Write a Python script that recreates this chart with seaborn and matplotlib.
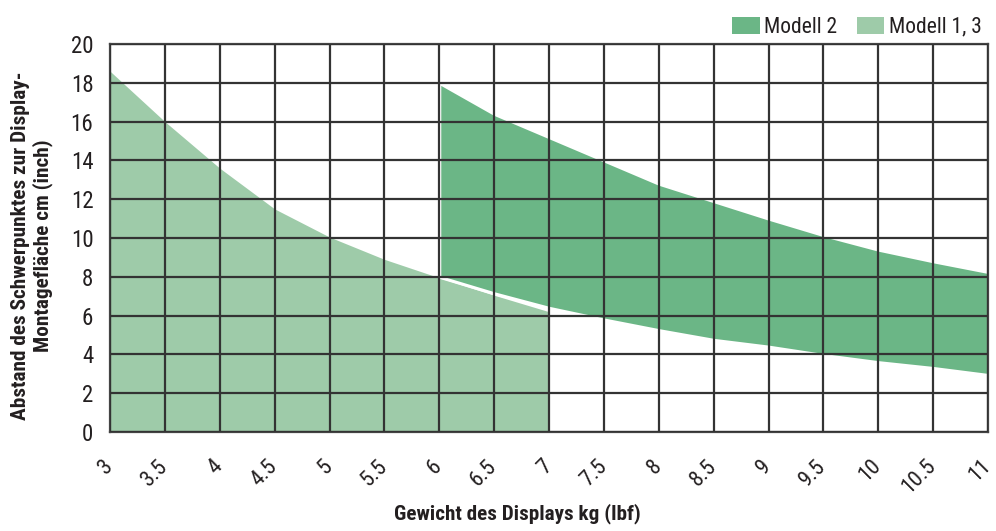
import matplotlib
matplotlib.use("Agg")
import matplotlib.pyplot as plt
import matplotlib.transforms as mtransforms
from matplotlib import font_manager
from matplotlib.patches import Patch
import seaborn as sns
import pandas as pd

# ---- data ----
x_light = [3.0, 3.5, 4.0, 4.5, 5.0, 5.5, 6.0, 6.5, 7.0]
y_light_top = [18.6, 16.0, 13.6, 11.5, 10.05, 8.9, 7.95, 7.05, 6.2]

x_dark = [6.0, 6.5, 7.0, 7.5, 8.0, 8.5, 9.0, 9.5, 10.0, 10.5, 11.0]
y_dark_top = [18.0, 16.4, 15.2, 14.0, 12.8, 11.9, 11.0, 10.15, 9.4, 8.8, 8.25]
y_dark_bottom = [8.0, 7.15, 6.4, 5.8, 5.25, 4.75, 4.4, 3.97, 3.6, 3.3, 2.94]

x_ticks = [3, 3.5, 4, 4.5, 5, 5.5, 6, 6.5, 7, 7.5, 8, 8.5, 9, 9.5, 10, 10.5, 11]
x_tick_labels = ["3", "3.5", "4", "4.5", "5", "5.5", "6", "6.5", "7", "7.5",
                 "8", "8.5", "9", "9.5", "10", "10.5", "11"]
y_ticks = [0, 2, 4, 6, 8, 10, 12, 14, 16, 18, 20]

series_names = ["Modell 2", "Modell 1, 3"]
dark_color = "#6bb686"
light_color = "#9ecba9"

# ---- style ----
sns.set_theme(style="white")
names = {f.name for f in font_manager.fontManager.ttflist}
stretch = "condensed"
family = "DejaVu Sans"
for cand in ["Roboto Condensed", "Liberation Sans Narrow", "Open Sans Condensed"]:
    if cand in names:
        family = cand
        stretch = "normal"
        break
plt.rcParams["font.family"] = [family, "DejaVu Sans"]
plt.rcParams["font.stretch"] = stretch
text_color = "#231f20"

fig = plt.figure(figsize=(9.96, 5.31), dpi=100)
ax = fig.add_axes([110 / 996, 1 - 432 / 531, (988 - 110) / 996, (432 - 44) / 531])

df_light = pd.DataFrame({"x": x_light, "y": y_light_top})
df_dark_top = pd.DataFrame({"x": x_dark, "y": y_dark_top})
df_dark_bot = pd.DataFrame({"x": x_dark, "y": y_dark_bottom})

sns.lineplot(data=df_light, x="x", y="y", ax=ax, color=light_color, lw=0)
sns.lineplot(data=df_dark_top, x="x", y="y", ax=ax, color=dark_color, lw=0)
sns.lineplot(data=df_dark_bot, x="x", y="y", ax=ax, color=dark_color, lw=0)

ax.fill_between(x_light, 0, y_light_top, color=light_color, lw=0, zorder=1)
ax.fill_between(x_dark, y_dark_bottom, y_dark_top, facecolor=dark_color,
                edgecolor="white", lw=2.2, zorder=1.2)

ax.set_xlim(3, 11)
ax.set_ylim(0, 20)
ax.set_xticks(x_ticks)
ax.set_xticklabels(x_tick_labels, rotation=45, ha="right", va="top")
ax.set_yticks(y_ticks)
ax.set_yticklabels([str(v) for v in y_ticks])
ax.tick_params(axis="both", length=0, colors=text_color)
ax.tick_params(axis="y", labelsize=16.5, pad=12)
ax.tick_params(axis="x", labelsize=16, pad=17)
offset = mtransforms.ScaledTranslation(7 / 100, 0, fig.dpi_scale_trans)
for lab in ax.get_xticklabels():
    lab.set_transform(lab.get_transform() + offset)

ax.set_axisbelow(False)
ax.grid(True, color="#333333", lw=1.6)
for sp in ax.spines.values():
    sp.set_visible(True)
    sp.set_color("#444444")
    sp.set_linewidth(1.6)
ax.set_xlabel("")
ax.set_ylabel("")

fig.text(517 / 996, 1 - 514 / 531, "Gewicht des Displays kg (lbf)", ha="center", va="center",
         fontsize=15.2, fontweight="bold", color=text_color)
fig.text(32 / 996, 1 - 246 / 531, "Abstand des Schwerpunktes zur Display-\nMontagefläche cm (inch)",
         ha="center", va="center", rotation=90, fontsize=15.3, fontweight="bold",
         color=text_color, linespacing=1.2)

handles = [Patch(facecolor=dark_color, edgecolor="none"),
           Patch(facecolor=light_color, edgecolor="none")]
leg = ax.legend(handles, series_names, loc="lower right", bbox_to_anchor=(1.0, 1.0),
                ncol=2, frameon=False, fontsize=15.5, handlelength=1.3, handleheight=0.85,
                handletextpad=0.2, columnspacing=0.9, borderaxespad=0.1, borderpad=0.2)
for t in leg.get_texts():
    t.set_color(text_color)

fig.savefig("out.png", dpi=100)
